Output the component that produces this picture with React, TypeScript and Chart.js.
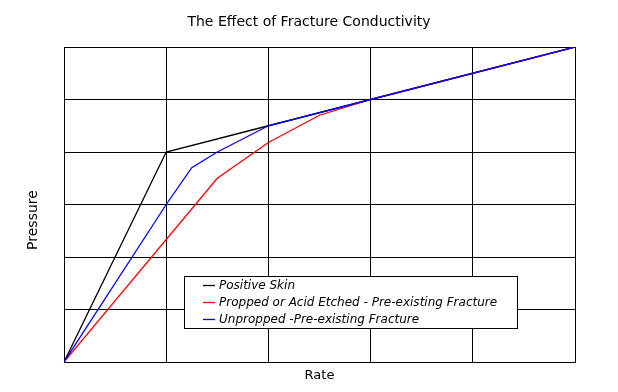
import React, { useEffect, useRef } from 'react';
import { Chart, registerables } from 'chart.js';

Chart.register(...registerables);

const TITLE = 'The Effect of Fracture Conductivity';
const X_LABEL = 'Rate';
const Y_LABEL = 'Pressure';

const SERIES_NAMES = [
  'Positive Skin',
  'Propped or Acid Etched - Pre-existing Fracture',
  'Unpropped -Pre-existing Fracture',
];
const SERIES_COLORS = ['#000000', '#ff0000', '#0000ff'];

const positiveSkinX = [0, 1, 2, 3, 5];
const positiveSkinY = [0, 4, 4.5, 5, 6];

const proppedX = [0, 1.5, 2, 2.5, 3, 5];
const proppedY = [0, 3.5, 4.18, 4.7, 5, 6];

const unproppedX = [0, 1, 1.25, 1.5, 2, 3, 5];
const unproppedY = [0, 3, 3.7, 4, 4.5, 5, 6];

const X_MIN = 0;
const X_MAX = 5;
const Y_MIN = 0;
const Y_MAX = 6;

const toPoints = (xs: number[], ys: number[]) => xs.map((x, i) => ({ x, y: ys[i] }));

const FONT = 'DejaVu Sans';

const yLabelPlugin = {
  id: 'yLabel',
  afterDraw(chart: any) {
    const ctx = chart.ctx as CanvasRenderingContext2D;
    const area = chart.chartArea;
    ctx.save();
    ctx.translate(33, area.top + (area.bottom - area.top) / 2 + 15.5);
    ctx.rotate(-Math.PI / 2);
    ctx.fillStyle = '#000';
    ctx.font = `14px "${FONT}"`;
    ctx.textAlign = 'center';
    ctx.textBaseline = 'middle';
    ctx.fillText(Y_LABEL, 0, 0);
    ctx.restore();
  },
};

const boxLegendPlugin = {
  id: 'boxLegend',
  afterDraw(chart: any) {
    const ctx = chart.ctx as CanvasRenderingContext2D;
    const area = chart.chartArea;
    const bx = area.left + 120.5;
    const by = 276.5;
    const bw = 333;
    const bh = 52;
    ctx.save();
    ctx.fillStyle = '#ffffff';
    ctx.fillRect(bx, by, bw, bh);
    ctx.strokeStyle = '#000000';
    ctx.lineWidth = 1;
    ctx.strokeRect(bx, by, bw, bh);
    const rows = [285.5, 302.5, 319.5];
    ctx.font = `italic 12px "${FONT}"`;
    ctx.textAlign = 'left';
    ctx.textBaseline = 'middle';
    SERIES_NAMES.forEach((name, i) => {
      const y = rows[i];
      ctx.beginPath();
      ctx.strokeStyle = SERIES_COLORS[i];
      ctx.lineWidth = 1.3;
      ctx.moveTo(bx + 18.5, y);
      ctx.lineTo(bx + 30.5, y);
      ctx.stroke();
      ctx.fillStyle = '#000000';
      ctx.fillText(name, bx + 34.5, y);
    });
    ctx.restore();
  },
};

export default function App() {
  const canvasRef = useRef<HTMLCanvasElement | null>(null);

  useEffect(() => {
    if (!canvasRef.current) return;
    const mk = (i: number, xs: number[], ys: number[], order: number) => ({
      label: SERIES_NAMES[i],
      data: toPoints(xs, ys),
      borderColor: SERIES_COLORS[i],
      backgroundColor: SERIES_COLORS[i],
      borderWidth: 1.3,
      pointRadius: 0,
      tension: 0,
      fill: false,
      order,
    });
    const chart = new Chart(canvasRef.current, {
      type: 'line',
      data: {
        datasets: [
          mk(0, positiveSkinX, positiveSkinY, 2),
          mk(1, proppedX, proppedY, 1),
          mk(2, unproppedX, unproppedY, 0),
        ],
      },
      options: {
        responsive: false,
        animation: false,
        devicePixelRatio: 1,
        layout: { padding: 0 },
        plugins: {
          legend: { display: false },
          tooltip: { enabled: false },
          title: {
            display: true,
            text: TITLE,
            color: '#000',
            font: { family: FONT, size: 14, weight: 'normal' },
            padding: { top: 14, bottom: 16.2 },
          },
        },
        scales: {
          x: {
            type: 'linear',
            min: X_MIN,
            max: X_MAX,
            ticks: { display: false, stepSize: 1 },
            grid: { color: '#000', lineWidth: 1, drawTicks: false },
            border: { display: true, color: '#000' },
            title: {
              display: true,
              text: X_LABEL,
              color: '#000',
              font: { family: FONT, size: 13, weight: 'normal' },
              padding: { top: 0, bottom: 9 },
            },
            afterFit: (scale: any) => {
              scale.height = 30;
            },
          },
          y: {
            type: 'linear',
            min: Y_MIN,
            max: Y_MAX,
            ticks: { display: false, stepSize: 1 },
            grid: { color: '#000', lineWidth: 1, drawTicks: false },
            border: { display: true, color: '#000' },
            afterFit: (scale: any) => {
              scale.width = 64;
            },
          },
          yRight: {
            type: 'linear',
            position: 'right',
            min: Y_MIN,
            max: Y_MAX,
            ticks: { display: false },
            grid: { display: false, drawTicks: false },
            border: { display: false },
            afterFit: (scale: any) => {
              scale.width = 43;
            },
          },
        },
      },
      plugins: [yLabelPlugin, boxLegendPlugin],
    });
    return () => chart.destroy();
  }, []);

  return (
    <div style={{ position: 'absolute', left: 0, top: 0, width: 618, height: 392, background: '#fff' }}>
      <canvas ref={canvasRef} width={618} height={392} />
    </div>
  );
}
